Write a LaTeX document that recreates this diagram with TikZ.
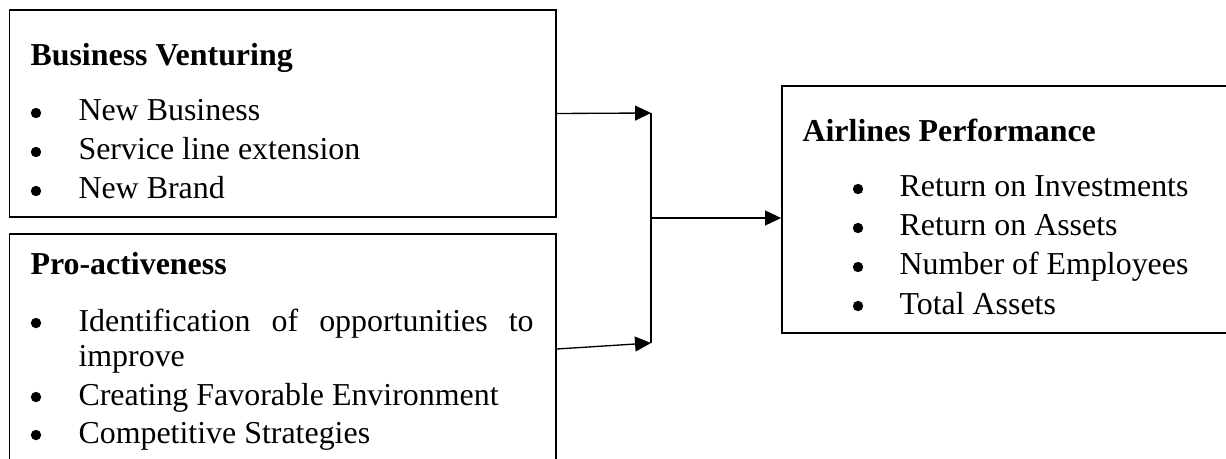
\documentclass[tikz,border=0pt]{standalone}
\usepackage{fontspec}
\setmainfont{Liberation Serif}
\usetikzlibrary{arrows.meta,fit}
\begin{document}
\begin{tikzpicture}[x=0.376pt,y=-0.376pt,
    every node/.style={font=\fontsize{12pt}{13.2pt}\selectfont},
    panel/.style={draw,line width=0.7pt,inner sep=0pt},
    boxhead/.style={anchor=base west,inner sep=0pt,font=\fontsize{12pt}{13.2pt}\selectfont\bfseries},
    blt/.style={circle,fill,inner sep=0pt,minimum size=3.9pt,yshift=3pt},
    itemtxt/.style={anchor=base west,inner sep=0pt},
    arr/.style={line width=0.5pt,-{Triangle[length=6pt,width=5.6pt]}}]
    \useasboundingbox (0,0) rectangle (1226,459);
    % the three boxes
    \node[panel,fit={(9.5,10) (556,217)}] (bv) {};
    \node[panel,fit={(9.5,234) (556,464)}] (pa) {};
    \node[panel,fit={(782,86) (1240,333)}] (ap) {};
    % Business Venturing
    \node[boxhead] (bvh) at (30,66) {Business Venturing};
    \foreach \y/\t [count=\i] in {121/New Business,160/Service line extension,199/New Brand}{
      \node[blt] (bvb\i) at (36,\y) {};
      \node[itemtxt] (bvt\i) at (78,\y) {\t};
    }
    % Pro-activeness
    \node[boxhead] (pah) at (30,275) {Pro-activeness};
    \node[blt] (pab1) at (36,331) {};
    \node[itemtxt,text width=171.1pt,align=justify] (pat1) at (78,331)
      {\tolerance=10000 Identification of opportunities to improve};
    \node[blt] (pab2) at (36,405) {};
    \node[itemtxt] (pat2) at (78,405) {Creating Favorable Environment};
    \node[blt] (pab3) at (36,443) {};
    \node[itemtxt] (pat3) at (78,443) {Competitive Strategies};
    % Airlines Performance
    \node[boxhead] (aph) at (802,142) {Airlines Performance};
    \foreach \y/\t [count=\i] in {197/Return on Investments,236/Return on Assets,275/Number of Employees,314/Total Assets}{
      \node[blt] (apb\i) at (858,\y) {};
      \node[itemtxt] (apt\i) at (899,\y) {\t};
    }
    % connectors
    \coordinate (j1) at (651,113);
    \coordinate (j2) at (651,343);
    \coordinate (jm) at (651,218);
    \draw[arr] (bv.east) -- (j1);
    \draw[arr] (pa.east) -- (j2);
    \draw[line width=0.5pt] (j1) -- (j2);
    \draw[arr] (jm) -- (jm -| ap.west);
  \end{tikzpicture}
\end{document}
